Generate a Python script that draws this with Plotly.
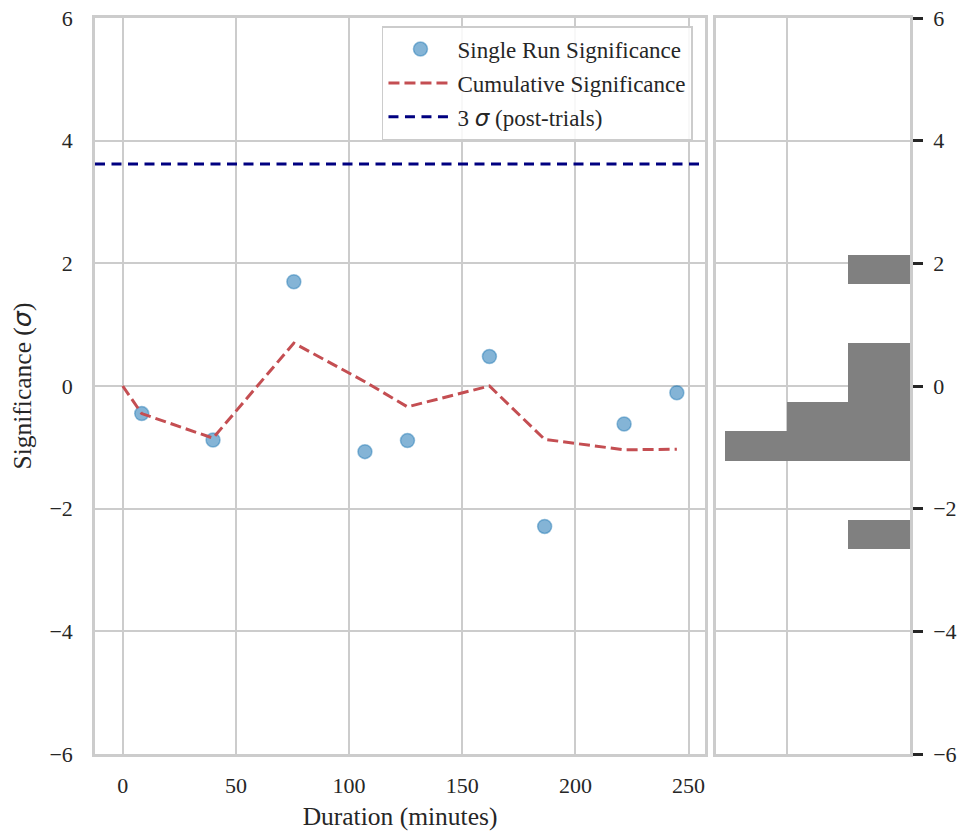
import numpy as np
import plotly.graph_objects as go

# Per-run results
run_minutes = [8.4, 39.9, 75.6, 107.0, 125.8, 162.0, 186.4, 221.5, 244.8]
single_sig = [-0.45, -0.88, 1.70, -1.07, -0.89, 0.48, -2.29, -0.62, -0.11]

# Cumulative significance after each run (starting from zero)
cum_minutes = [0.0, 8.4, 39.9, 75.6, 107.0, 125.8, 162.0, 186.4, 221.5, 244.8]
cum_sig = [0.0, -0.45, -0.85, 0.70, 0.07, -0.34, 0.0, -0.87, -1.04, -1.03]

# Post-trials 3 sigma threshold
threshold_sig = 3.62

# Histogram binning of single-run significances
hist_lo, hist_hi, hist_nbins = -2.66, 2.14, 10

x_ticks = [0, 50, 100, 150, 200, 250]
y_ticks = [-6, -4, -2, 0, 2, 4, 6]
x_range = [-12.25, 257.25]
y_range = [-6, 6]

FONT = "Liberation Serif, Times New Roman, serif"
TXT = "#262626"
GRID = "#cccccc"
SIGMA = "<span style='font-family:DejaVu Sans'><i>σ</i></span>"

counts, edges = np.histogram(single_sig, bins=hist_nbins, range=(hist_lo, hist_hi))
centers = 0.5 * (edges[:-1] + edges[1:])
bin_w = edges[1] - edges[0]

fig = go.Figure()

fig.add_trace(go.Scatter(
    x=run_minutes, y=single_sig, mode="markers", name="Single Run Significance",
    legendgroup="a",
    marker=dict(size=14, color="rgba(31,119,180,0.55)",
                line=dict(width=1.5, color="rgba(31,119,180,0.45)")),
    xaxis="x", yaxis="y"))

fig.add_trace(go.Scatter(
    x=cum_minutes, y=cum_sig, mode="lines", name="Cumulative Significance",
    legendgroup="b",
    line=dict(color="#c44e52", width=3, dash="11px,5px"),
    xaxis="x", yaxis="y"))

fig.add_trace(go.Scatter(
    x=x_range, y=[threshold_sig, threshold_sig], mode="lines",
    name="3 " + SIGMA + " (post-trials)", legendgroup="c",
    line=dict(color="#000080", width=3, dash="10px,6.5px"),
    xaxis="x", yaxis="y"))

fig.add_trace(go.Bar(
    y=centers, x=counts, orientation="h", width=bin_w,
    marker=dict(color="#808080", line=dict(width=0)),
    showlegend=False, xaxis="x2", yaxis="y2"))

axis_common = dict(showgrid=True, gridcolor=GRID, gridwidth=2,
                   showline=True, linecolor=GRID, linewidth=2.5, mirror=True,
                   zeroline=False, automargin=False,
                   tickfont=dict(family=FONT, size=22, color=TXT))

fig.update_layout(
    width=965, height=836,
    margin=dict(l=95, r=55, t=18, b=82, autoexpand=False),
    paper_bgcolor="white", plot_bgcolor="white",
    font=dict(family=FONT, color=TXT),
    bargap=0,
    xaxis=dict(domain=[0, 0.7485], range=x_range, tickvals=x_ticks,
               ticks="", ticklabelstandoff=10,
               title=dict(text="Duration (minutes)", font=dict(family=FONT, size=25.5, color=TXT),
                          standoff=10),
               anchor="y", **axis_common),
    yaxis=dict(range=y_range, tickvals=y_ticks, ticks="", ticklabelstandoff=15,
               title=dict(text="Significance (" + SIGMA + ")",
                          font=dict(family=FONT, size=25.5, color=TXT), standoff=11),
               anchor="x", **axis_common),
    xaxis2=dict(domain=[0.762, 1], range=[3.15, 0], tickvals=[0, 2],
                showticklabels=False, ticks="", anchor="y2", **axis_common),
    yaxis2=dict(range=y_range, tickvals=y_ticks, side="right", anchor="x2",
                ticks="outside", ticklen=10, tickwidth=2.5, tickcolor=TXT,
                ticklabelstandoff=6, **axis_common),
    legend=dict(x=0.7337, xanchor="right", y=0.989, yanchor="top",
                traceorder="grouped", tracegroupgap=1,
                bgcolor="rgba(255,255,255,0.85)", bordercolor=GRID, borderwidth=1.5,
                font=dict(family=FONT, size=23, color=TXT),
                itemwidth=64),
)

fig.write_html("out.html")
